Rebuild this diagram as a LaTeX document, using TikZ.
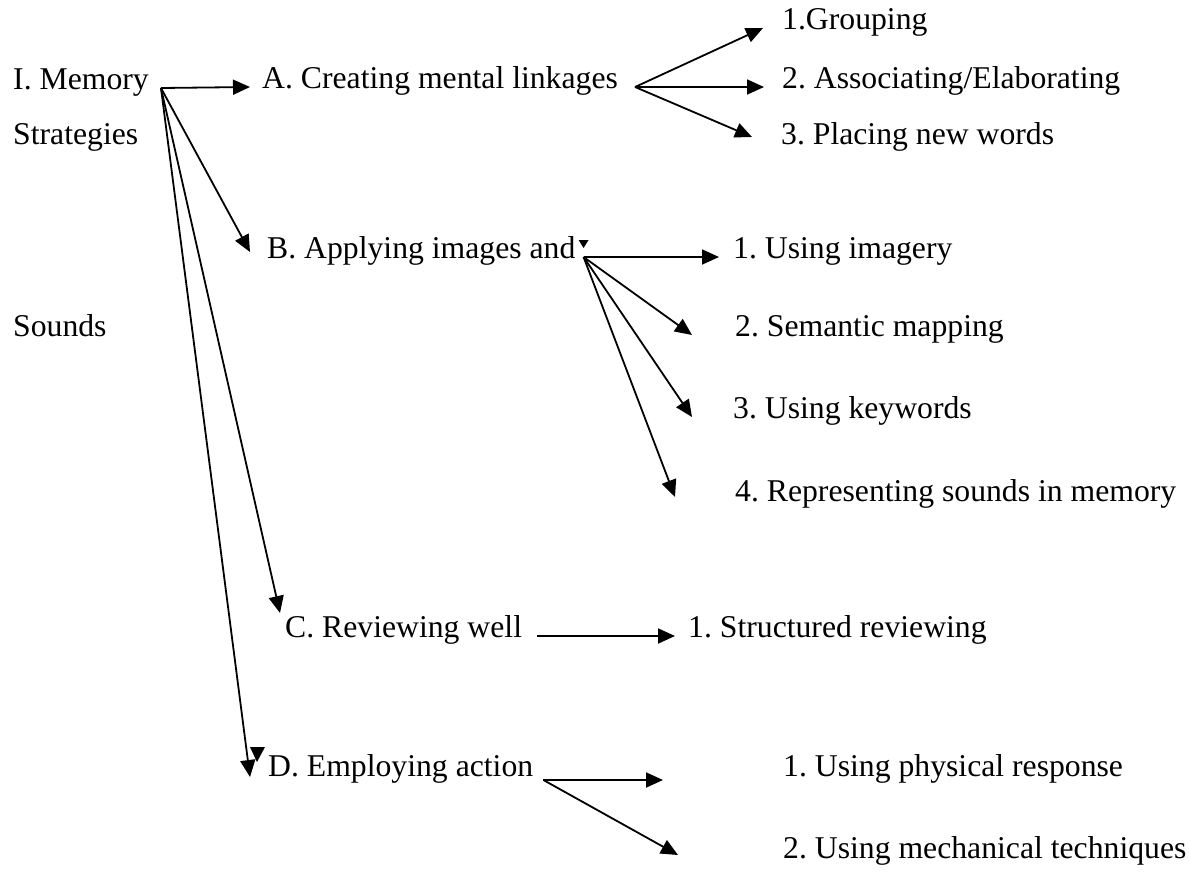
\documentclass[tikz,border=0pt]{standalone}
\usepackage{fontspec}
\setmainfont{Liberation Serif}
\usetikzlibrary{arrows.meta}
\frenchspacing

\begin{document}
\begin{tikzpicture}[
  x=1pt, y=-1pt,
  font=\fontsize{31.7}{38}\selectfont,
  item/.style={
    anchor=west,
    inner sep=0pt,
    text height=0.5em,
    text depth=0.2em
  },
  arrow/.style={-{Triangle[length=17pt,width=15pt]},line width=1.8pt},
  strayhead/.style={fill=black}
]
\useasboundingbox (0,0) rectangle (1189,871);

\node[item] (mem) at (13,88) {I. Memory};
\node[item] (strat) at (13,143) {Strategies};
\node[item] (snd) at (13,335) {Sounds};

\node[item] (A) at (262,87) {A. Creating mental linkages};
\node[item] (A1) at (782,28) {1.Grouping};
\node[item] (A2) at (782,87) {2. Associating/Elaborating};
\node[item] (A3) at (781,143) {3. Placing new words};

\node[item] (B) at (267,257) {B. Applying images and};
\node[item] (B1) at (733,257) {1. Using imagery};
\node[item] (B2) at (735,335) {2. Semantic mapping};
\node[item] (B3) at (733,417) {3. Using keywords};
\node[item] (B4) at (735,500) {4. Representing sounds in memory};

\node[item] (C) at (285,636) {C. Reviewing well};
\node[item] (C1) at (688,636) {1. Structured reviewing};

\node[item] (D) at (268,775) {D. Employing action};
\node[item] (D1) at (783,775) {1. Using physical response};
\node[item] (D2) at (783,857) {2. Using mechanical techniques};

\coordinate (memhub) at ([xshift=12pt]mem.east);
\coordinate (Ahub) at ([xshift=17pt]A.east);
\coordinate (Bhub) at ([xshift=8pt]B.east);
\coordinate (Dhub) at ([xshift=10pt,yshift=-5pt]D.east);

\draw[arrow] (memhub) -- ([xshift=-12pt]A.west);
\draw[arrow] (memhub) -- ([xshift=-17pt,yshift=5pt]B.west);
\draw[arrow] (memhub) -- ([xshift=-5pt,yshift=23pt]C.west);
\draw[arrow] (memhub) -- ([xshift=-18pt,yshift=-2pt]D.west);

\draw[arrow] (Ahub) -- ([xshift=-19pt]A1.west);
\draw[arrow] (Ahub) -- ([xshift=-18pt]A2.west);
\draw[arrow] (Ahub) -- ([xshift=-29pt,yshift=6pt]A3.west);

\draw[arrow] (Bhub) -- ([xshift=-14pt]B1.west);
\draw[arrow] (Bhub) -- ([xshift=-43pt]B2.west);
\draw[arrow] (Bhub) -- ([xshift=-41pt]B3.west);
\draw[arrow] (Bhub) -- ([xshift=-60pt,yshift=3pt]B4.west);

\draw[arrow] ([xshift=15pt]C.east) -- ([xshift=-13pt]C1.west);

\draw[arrow] (Dhub) -- ([xshift=-120pt,yshift=-5pt]D1.west);
\draw[arrow] (Dhub) -- ([xshift=-105pt,yshift=2pt]D2.west);

% loose arrow heads
\fill[strayhead] ([xshift=-5pt,yshift=17pt]Bhub) -- ++(10,0) -- ++(-5,8) -- cycle;
\fill[strayhead] ([xshift=-18pt,yshift=28pt]D.west) -- ++(15,0) -- ++(-8,15) -- cycle;
\end{tikzpicture}
\end{document}
